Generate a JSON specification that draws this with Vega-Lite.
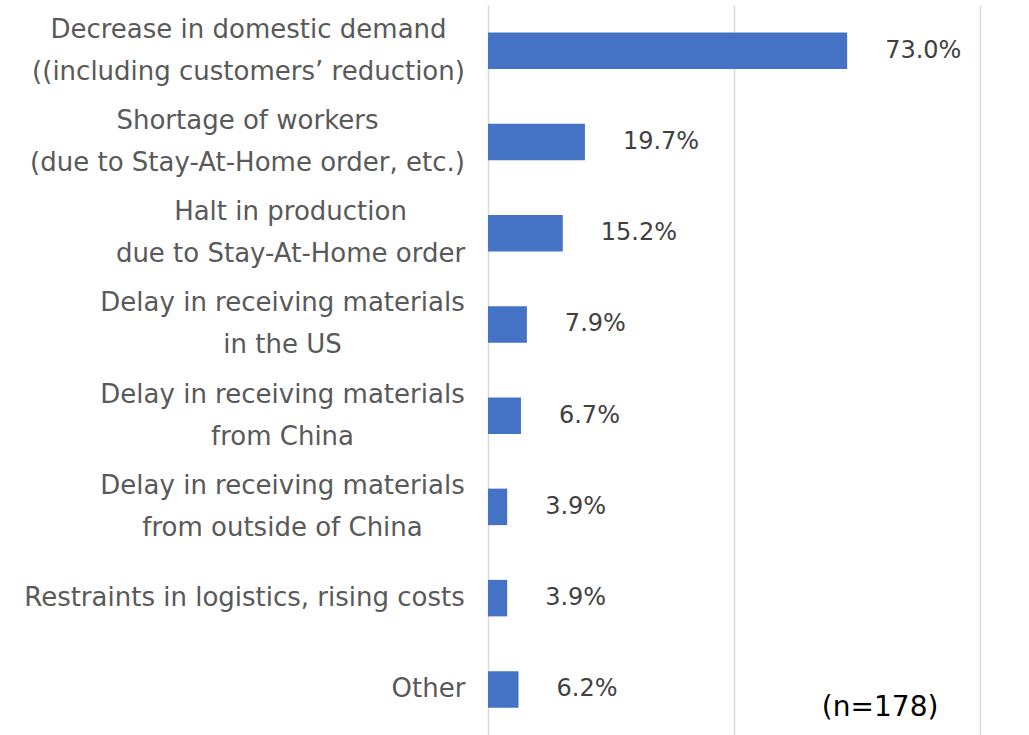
{
  "$schema": "https://vega.github.io/schema/vega-lite/v6.json",
  "width": 492,
  "height": 730,
  "autosize": "none",
  "padding": {"left": 488, "top": 5, "right": 49, "bottom": 0},
  "background": "white",
  "config": {"view": {"stroke": null}, "font": "DejaVu Sans"},
  "data": {
    "values": [
      {"reason": "Decrease in domestic demand|((including customers’ reduction)", "share": 0.730},
      {"reason": "Shortage of workers|(due to Stay-At-Home order, etc.)", "share": 0.197},
      {"reason": "Halt in production|due to Stay-At-Home order", "share": 0.152},
      {"reason": "Delay in receiving materials|in the US", "share": 0.079},
      {"reason": "Delay in receiving materials|from China", "share": 0.067},
      {"reason": "Delay in receiving materials|from outside of China", "share": 0.039},
      {"reason": "Restraints in logistics, rising costs", "share": 0.039},
      {"reason": "Other", "share": 0.062}
    ]
  },
  "encoding": {
    "y": {
      "field": "reason",
      "type": "nominal",
      "sort": null,
      "scale": {"paddingInner": 0.6, "paddingOuter": 0.3},
      "axis": {
        "title": null,
        "domain": false,
        "ticks": false,
        "labelExpr": "split(datum.label, '|')",
        "labelFontSize": 26,
        "labelColor": "#595959",
        "labelLineHeight": 42,
        "labelAlign": "center",
        "labelPadding": {
          "condition": [
            {"test": "indexof(datum.value, 'Decrease') >= 0", "value": 240},
            {"test": "indexof(datum.value, 'Shortage') >= 0", "value": 241},
            {"test": "indexof(datum.value, 'Halt') >= 0", "value": 198},
            {"test": "indexof(datum.value, 'Delay') >= 0", "value": 206},
            {"test": "indexof(datum.value, 'Restraints') >= 0", "value": 244}
          ],
          "value": 60
        },
        "labelOffset": {"condition": {"test": "indexof(datum.value, '|') >= 0", "value": -21}, "value": 0},
        "labelLimit": 600
      }
    }
  },
  "layer": [
    {
      "mark": {"type": "bar", "color": "#4472C4"},
      "encoding": {
        "x": {
          "field": "share",
          "type": "quantitative",
          "scale": {"domain": [0, 1], "nice": false},
          "axis": {
            "title": null,
            "labels": false,
            "ticks": false,
            "domain": false,
            "grid": true,
            "values": [0, 0.5, 1],
            "gridColor": "#d9d9d9",
            "gridWidth": 1.5
          }
        }
      }
    },
    {
      "mark": {"type": "text", "align": "left", "dx": 38, "fontSize": 24, "color": "#404040"},
      "encoding": {
        "x": {"field": "share", "type": "quantitative"},
        "text": {"field": "share", "type": "quantitative", "format": ".1%"}
      }
    },
    {
      "data": {"values": [{"note": "(n=178)"}]},
      "mark": {"type": "text", "align": "center", "dy": 19, "fontSize": 28, "color": "#000000"},
      "encoding": {
        "x": {"datum": 0.797, "type": "quantitative"},
        "y": {"datum": "Other", "type": "nominal"},
        "text": {"field": "note"}
      }
    }
  ]
}
